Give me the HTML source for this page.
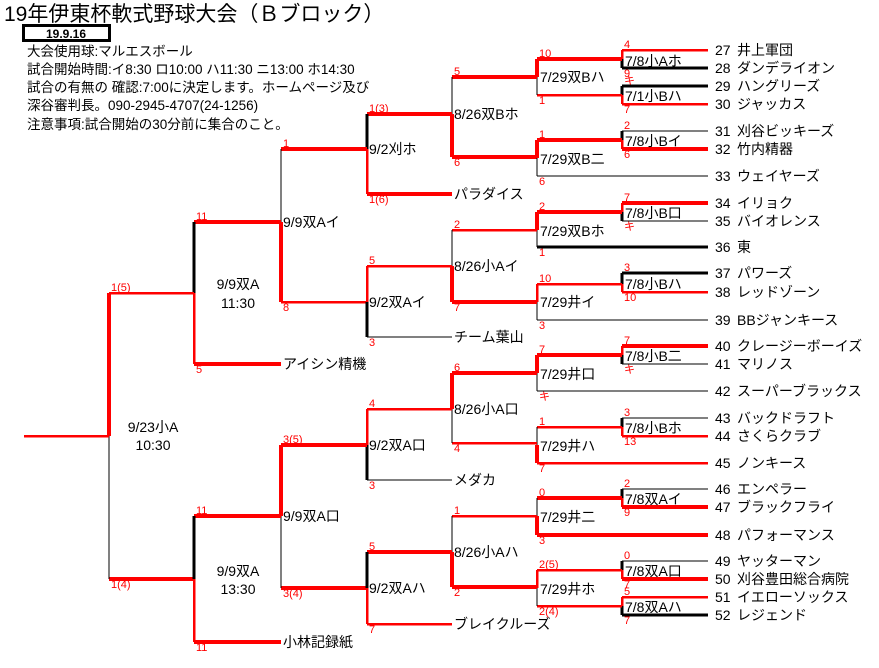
<!DOCTYPE html>
<html><head><meta charset="utf-8"><style>
html,body{margin:0;padding:0;background:#fff;}
svg{display:block;font-family:"Liberation Sans","Noto Sans CJK JP",sans-serif;}
line{shape-rendering:crispEdges}
.a{stroke:#f00;stroke-width:4}
.b{stroke:#f00;stroke-width:2.5}
.k{stroke:#000;stroke-width:1}
.K{stroke:#000;stroke-width:3}
.r{fill:#f00;font-size:11px}
.m{font-size:14px}
.t{font-size:14px}
</style></head><body>
<svg width="879" height="668" viewBox="0 0 879 668">
<text x="4" y="21" font-size="21">19年伊東杯軟式野球大会（Ｂブロック）</text>
<rect x="23.5" y="25.5" width="86" height="15" fill="none" stroke="#000" stroke-width="3"/>
<text x="66" y="38" font-size="12" font-weight="bold" text-anchor="middle">19.9.16</text>
<g font-size="13.5">
<text x="27" y="56">大会使用球:マルエスボール</text>
<text x="27" y="74">試合開始時間:イ8:30 ロ10:00 ハ11:30 ニ13:00 ホ14:30</text>
<text x="27" y="92">試合の有無の 確認:7:00に決定します。ホームページ及び</text>
<text x="27" y="110">深谷審判長。090-2945-4707(24-1256)</text>
<text x="27" y="129">注意事項:試合開始の30分前に集合のこと。</text>
</g>
<g>
<line x1="622" y1="50" x2="708" y2="50" class="b"/>
<line x1="622" y1="68" x2="708" y2="68" class="K"/>
<line x1="622" y1="50" x2="622" y2="59" class="b"/><line x1="622" y1="59" x2="622" y2="68" class="K"/>
<line x1="622" y1="86" x2="708" y2="86" class="K"/>
<line x1="622" y1="104" x2="708" y2="104" class="b"/>
<line x1="622" y1="86" x2="622" y2="95" class="K"/><line x1="622" y1="95" x2="622" y2="104" class="b"/>
<line x1="537" y1="59" x2="622" y2="59" class="a"/>
<line x1="537" y1="95" x2="622" y2="95" class="b"/>
<line x1="537" y1="59" x2="537" y2="77" class="a"/><line x1="537" y1="77" x2="537" y2="95" class="k"/>
<line x1="452" y1="77" x2="537" y2="77" class="a"/>
<line x1="452" y1="157" x2="537" y2="157" class="a"/>
<line x1="452" y1="77" x2="452" y2="114" class="k"/><line x1="452" y1="114" x2="452" y2="157" class="a"/>
<line x1="622" y1="131" x2="708" y2="131" class="k"/>
<line x1="622" y1="149" x2="708" y2="149" class="a"/>
<line x1="622" y1="131" x2="622" y2="140" class="K"/><line x1="622" y1="140" x2="622" y2="149" class="b"/>
<line x1="537" y1="140" x2="622" y2="140" class="a"/>
<line x1="537" y1="176" x2="708" y2="176" class="k"/>
<line x1="537" y1="140" x2="537" y2="158" class="a"/><line x1="537" y1="158" x2="537" y2="176" class="k"/>
<line x1="367" y1="114" x2="452" y2="114" class="a"/>
<line x1="367" y1="194" x2="452" y2="194" class="a"/>
<line x1="367" y1="114" x2="367" y2="149" class="K"/><line x1="367" y1="149" x2="367" y2="194" class="b"/>
<line x1="281" y1="149" x2="367" y2="149" class="a"/>
<line x1="281" y1="302" x2="367" y2="302" class="b"/>
<line x1="281" y1="149" x2="281" y2="222" class="k"/><line x1="281" y1="222" x2="281" y2="302" class="a"/>
<line x1="622" y1="203" x2="708" y2="203" class="a"/>
<line x1="622" y1="221" x2="708" y2="221" class="k"/>
<line x1="622" y1="203" x2="622" y2="212" class="b"/><line x1="622" y1="212" x2="622" y2="221" class="K"/>
<line x1="537" y1="212" x2="622" y2="212" class="a"/>
<line x1="537" y1="247" x2="708" y2="247" class="K"/>
<line x1="537" y1="212" x2="537" y2="230" class="a"/><line x1="537" y1="230" x2="537" y2="247" class="k"/>
<line x1="622" y1="273" x2="708" y2="273" class="K"/>
<line x1="622" y1="292" x2="708" y2="292" class="b"/>
<line x1="622" y1="273" x2="622" y2="284" class="K"/><line x1="622" y1="284" x2="622" y2="292" class="b"/>
<line x1="537" y1="284" x2="622" y2="284" class="b"/>
<line x1="537" y1="320" x2="708" y2="320" class="k"/>
<line x1="537" y1="284" x2="537" y2="302" class="b"/><line x1="537" y1="302" x2="537" y2="320" class="k"/>
<line x1="452" y1="230" x2="537" y2="230" class="b"/>
<line x1="452" y1="302" x2="537" y2="302" class="a"/>
<line x1="452" y1="230" x2="452" y2="266" class="k"/><line x1="452" y1="266" x2="452" y2="302" class="a"/>
<line x1="367" y1="266" x2="452" y2="266" class="b"/>
<line x1="367" y1="337" x2="452" y2="337" class="k"/>
<line x1="367" y1="266" x2="367" y2="302" class="b"/><line x1="367" y1="302" x2="367" y2="337" class="K"/>
<line x1="194" y1="222" x2="281" y2="222" class="a"/>
<line x1="194" y1="364" x2="281" y2="364" class="a"/>
<line x1="194" y1="222" x2="194" y2="293" class="K"/><line x1="194" y1="293" x2="194" y2="364" class="b"/>
<line x1="109" y1="293" x2="194" y2="293" class="b"/>
<line x1="109" y1="579" x2="194" y2="579" class="a"/>
<line x1="109" y1="293" x2="109" y2="436" class="a"/><line x1="109" y1="436" x2="109" y2="579" class="k"/>
<line x1="24" y1="436" x2="109" y2="436" class="b"/>
<line x1="622" y1="346" x2="708" y2="346" class="a"/>
<line x1="622" y1="364" x2="708" y2="364" class="k"/>
<line x1="622" y1="346" x2="622" y2="355" class="b"/><line x1="622" y1="355" x2="622" y2="364" class="K"/>
<line x1="537" y1="355" x2="622" y2="355" class="a"/>
<line x1="537" y1="391" x2="708" y2="391" class="k"/>
<line x1="537" y1="355" x2="537" y2="373" class="a"/><line x1="537" y1="373" x2="537" y2="391" class="k"/>
<line x1="622" y1="418" x2="708" y2="418" class="k"/>
<line x1="622" y1="436" x2="708" y2="436" class="b"/>
<line x1="622" y1="418" x2="622" y2="427" class="K"/><line x1="622" y1="427" x2="622" y2="436" class="b"/>
<line x1="537" y1="427" x2="622" y2="427" class="b"/>
<line x1="537" y1="463" x2="708" y2="463" class="b"/>
<line x1="537" y1="427" x2="537" y2="445" class="k"/><line x1="537" y1="445" x2="537" y2="463" class="a"/>
<line x1="452" y1="373" x2="537" y2="373" class="a"/>
<line x1="452" y1="443" x2="537" y2="443" class="b"/>
<line x1="452" y1="373" x2="452" y2="409" class="a"/><line x1="452" y1="409" x2="452" y2="443" class="k"/>
<line x1="367" y1="409" x2="452" y2="409" class="b"/>
<line x1="367" y1="480" x2="452" y2="480" class="k"/>
<line x1="367" y1="409" x2="367" y2="445" class="b"/><line x1="367" y1="445" x2="367" y2="480" class="K"/>
<line x1="281" y1="445" x2="367" y2="445" class="a"/>
<line x1="281" y1="588" x2="367" y2="588" class="a"/>
<line x1="281" y1="445" x2="281" y2="516" class="a"/><line x1="281" y1="516" x2="281" y2="588" class="k"/>
<line x1="194" y1="516" x2="281" y2="516" class="a"/>
<line x1="194" y1="642" x2="281" y2="642" class="a"/>
<line x1="194" y1="516" x2="194" y2="579" class="K"/><line x1="194" y1="579" x2="194" y2="642" class="b"/>
<line x1="622" y1="489" x2="708" y2="489" class="k"/>
<line x1="622" y1="507" x2="708" y2="507" class="a"/>
<line x1="622" y1="489" x2="622" y2="498" class="K"/><line x1="622" y1="498" x2="622" y2="507" class="b"/>
<line x1="537" y1="498" x2="622" y2="498" class="a"/>
<line x1="537" y1="535" x2="708" y2="535" class="a"/>
<line x1="537" y1="498" x2="537" y2="516" class="k"/><line x1="537" y1="516" x2="537" y2="535" class="a"/>
<line x1="622" y1="561" x2="708" y2="561" class="k"/>
<line x1="622" y1="579" x2="708" y2="579" class="a"/>
<line x1="622" y1="561" x2="622" y2="570" class="K"/><line x1="622" y1="570" x2="622" y2="579" class="b"/>
<line x1="622" y1="597" x2="708" y2="597" class="b"/>
<line x1="622" y1="615" x2="708" y2="615" class="K"/>
<line x1="622" y1="597" x2="622" y2="606" class="b"/><line x1="622" y1="606" x2="622" y2="615" class="K"/>
<line x1="537" y1="570" x2="622" y2="570" class="b"/>
<line x1="537" y1="606" x2="622" y2="606" class="b"/>
<line x1="537" y1="570" x2="537" y2="588" class="b"/><line x1="537" y1="588" x2="537" y2="606" class="k"/>
<line x1="452" y1="516" x2="537" y2="516" class="b"/>
<line x1="452" y1="587" x2="537" y2="587" class="a"/>
<line x1="452" y1="516" x2="452" y2="552" class="k"/><line x1="452" y1="552" x2="452" y2="587" class="a"/>
<line x1="367" y1="552" x2="452" y2="552" class="a"/>
<line x1="367" y1="624" x2="452" y2="624" class="b"/>
<line x1="367" y1="552" x2="367" y2="588" class="K"/><line x1="367" y1="588" x2="367" y2="624" class="b"/>
</g>
<g class="m">
<text x="625" y="66">7/8小Aホ</text>
<text x="625" y="101">7/1小Bハ</text>
<text x="540" y="82">7/29双Bハ</text>
<text x="454" y="119">8/26双Bホ</text>
<text x="625" y="146">7/8小Bイ</text>
<text x="540" y="164">7/29双B二</text>
<text x="369" y="154">9/2刈ホ</text>
<text x="283" y="227">9/9双Aイ</text>
<text x="625" y="218">7/8小B口</text>
<text x="540" y="236">7/29双Bホ</text>
<text x="454" y="271">8/26小Aイ</text>
<text x="625" y="289">7/8小Bハ</text>
<text x="540" y="307">7/29井イ</text>
<text x="369" y="307">9/2双Aイ</text>
<text x="625" y="361">7/8小B二</text>
<text x="540" y="379">7/29井口</text>
<text x="454" y="414">8/26小A口</text>
<text x="625" y="433">7/8小Bホ</text>
<text x="540" y="451">7/29井ハ</text>
<text x="369" y="450">9/2双A口</text>
<text x="283" y="521">9/9双A口</text>
<text x="625" y="504">7/8双Aイ</text>
<text x="540" y="522">7/29井二</text>
<text x="454" y="557">8/26小Aハ</text>
<text x="625" y="576">7/8双A口</text>
<text x="540" y="594">7/29井ホ</text>
<text x="625" y="612">7/8双Aハ</text>
<text x="369" y="593">9/2双Aハ</text>
<text x="238" y="289" text-anchor="middle">9/9双A</text>
<text x="238" y="308" text-anchor="middle">11:30</text>
<text x="153" y="432" text-anchor="middle">9/23小A</text>
<text x="153" y="450" text-anchor="middle">10:30</text>
<text x="238" y="576" text-anchor="middle">9/9双A</text>
<text x="238" y="594" text-anchor="middle">13:30</text>
<text x="454" y="199">パラダイス</text>
<text x="454" y="342">チーム葉山</text>
<text x="283" y="369">アイシン精機</text>
<text x="454" y="485">メダカ</text>
<text x="454" y="629">ブレイクルーズ</text>
<text x="283" y="647">小林記録紙</text>
</g>
<g class="t">
<text x="715" y="55">27</text><text x="737" y="55">井上軍団</text>
<text x="715" y="73">28</text><text x="737" y="73">ダンデライオン</text>
<text x="715" y="91">29</text><text x="737" y="91">ハングリーズ</text>
<text x="715" y="109">30</text><text x="737" y="109">ジャッカス</text>
<text x="715" y="136">31</text><text x="737" y="136">刈谷ビッキーズ</text>
<text x="715" y="154">32</text><text x="737" y="154">竹内精器</text>
<text x="715" y="181">33</text><text x="737" y="181">ウェイヤーズ</text>
<text x="715" y="208">34</text><text x="737" y="208">イリョク</text>
<text x="715" y="226">35</text><text x="737" y="226">バイオレンス</text>
<text x="715" y="252">36</text><text x="737" y="252">東</text>
<text x="715" y="278">37</text><text x="737" y="278">パワーズ</text>
<text x="715" y="297">38</text><text x="737" y="297">レッドゾーン</text>
<text x="715" y="325">39</text><text x="737" y="325">BBジャンキース</text>
<text x="715" y="351">40</text><text x="737" y="351">クレージーボーイズ</text>
<text x="715" y="369">41</text><text x="737" y="369">マリノス</text>
<text x="715" y="396">42</text><text x="737" y="396">スーパーブラックス</text>
<text x="715" y="423">43</text><text x="737" y="423">バックドラフト</text>
<text x="715" y="441">44</text><text x="737" y="441">さくらクラブ</text>
<text x="715" y="468">45</text><text x="737" y="468">ノンキース</text>
<text x="715" y="494">46</text><text x="737" y="494">エンペラー</text>
<text x="715" y="512">47</text><text x="737" y="512">ブラックフライ</text>
<text x="715" y="540">48</text><text x="737" y="540">パフォーマンス</text>
<text x="715" y="566">49</text><text x="737" y="566">ヤッターマン</text>
<text x="715" y="584">50</text><text x="737" y="584">刈谷豊田総合病院</text>
<text x="715" y="602">51</text><text x="737" y="602">イエローソックス</text>
<text x="715" y="620">52</text><text x="737" y="620">レジェンド</text>
</g>
<g class="r">
<text x="624" y="48">4</text><text x="624" y="77">9</text>
<text x="624" y="84">キ</text><text x="624" y="113">7</text>
<text x="539" y="57">10</text><text x="539" y="104">1</text>
<text x="454" y="75">5</text><text x="454" y="166">6</text>
<text x="624" y="129">2</text><text x="624" y="158">6</text>
<text x="539" y="138">1</text><text x="539" y="185">6</text>
<text x="369" y="112">1(3)</text><text x="369" y="203">1(6)</text>
<text x="283" y="147">1</text><text x="283" y="311">8</text>
<text x="624" y="201">7</text><text x="624" y="230">キ</text>
<text x="539" y="210">2</text><text x="539" y="256">1</text>
<text x="454" y="228">2</text><text x="454" y="311">7</text>
<text x="624" y="271">3</text><text x="624" y="301">10</text>
<text x="539" y="282">10</text><text x="539" y="329">3</text>
<text x="369" y="264">5</text><text x="369" y="346">3</text>
<text x="196" y="220">11</text><text x="196" y="373">5</text>
<text x="111" y="291">1(5)</text><text x="111" y="588">1(4)</text>
<text x="624" y="344">7</text><text x="624" y="373">キ</text>
<text x="539" y="353">7</text><text x="539" y="400">キ</text>
<text x="454" y="371">6</text><text x="454" y="452">4</text>
<text x="624" y="416">3</text><text x="624" y="445">13</text>
<text x="539" y="425">1</text><text x="539" y="472">7</text>
<text x="369" y="407">4</text><text x="369" y="489">3</text>
<text x="283" y="443">3(5)</text><text x="283" y="597">3(4)</text>
<text x="196" y="514">11</text><text x="196" y="651">11</text>
<text x="624" y="487">2</text><text x="624" y="516">9</text>
<text x="539" y="496">0</text><text x="539" y="544">3</text>
<text x="454" y="514">1</text><text x="454" y="596">2</text>
<text x="624" y="559">0</text><text x="624" y="588">7</text>
<text x="624" y="595">5</text><text x="624" y="624">7</text>
<text x="539" y="568">2(5)</text><text x="539" y="615">2(4)</text>
<text x="369" y="550">5</text><text x="369" y="633">7</text>
</g>
</svg>
</body></html>
